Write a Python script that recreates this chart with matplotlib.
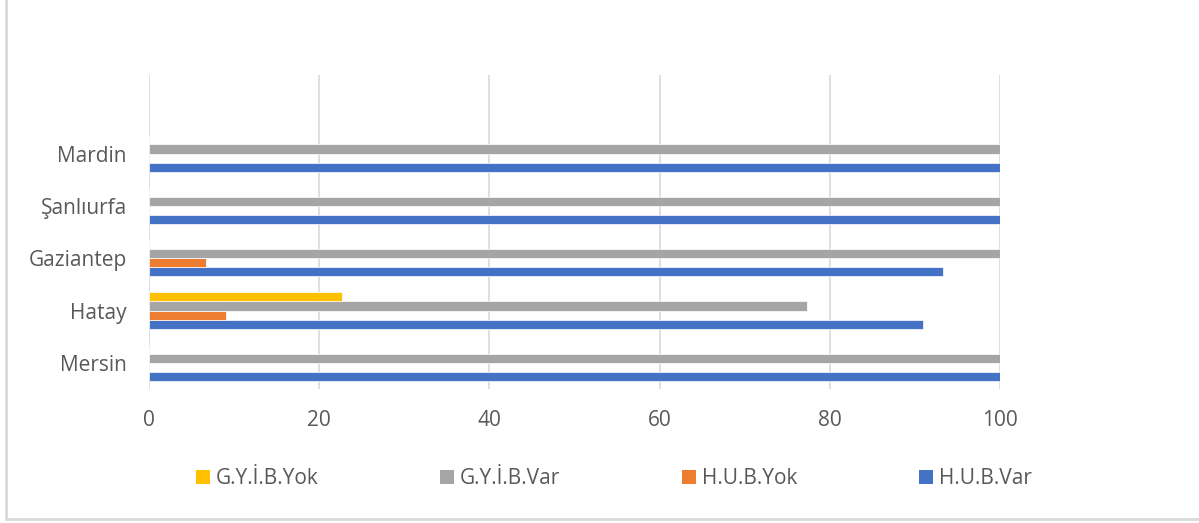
import matplotlib
matplotlib.use("Agg")
import matplotlib.pyplot as plt
import numpy as np
from matplotlib.lines import Line2D
from matplotlib.patches import Patch

plt.rcParams["font.family"] = ["Open Sans", "DejaVu Sans"]

cities = ["Mersin", "Hatay", "Gaziantep", "Şanlıurfa", "Mardin"]
hub_var = [100, 90.9, 93.3, 100, 100]
hub_yok = [0, 9.1, 6.7, 0, 0]
gyib_var = [100, 77.3, 100, 100, 100]
gyib_yok = [0, 22.7, 0, 0, 0]

series = [("H.U.B.Var", hub_var, "#4472C4"), ("H.U.B.Yok", hub_yok, "#ED7D31"),
          ("G.Y.İ.B.Var", gyib_var, "#A5A5A5"), ("G.Y.İ.B.Yok", gyib_yok, "#FFC000")]
TXT = "#595959"

fig = plt.figure(figsize=(11.99, 5.23), dpi=100)
ax = fig.add_axes([149/1199, 1 - 389/523, 851/1199, 314/523])

y = np.arange(len(cities)); h = 0.172
for k, (name, vals, col) in enumerate(series):
    ax.barh(y + (k - 1.5) * h, vals, h, color=col, edgecolor="white", linewidth=0.5, label=name, zorder=3)

ax.set_xlim(0, 100); ax.set_ylim(-0.5, len(cities) + 0.5)
ax.set_xticks(range(0, 101, 20)); ax.set_yticks(y); ax.set_yticklabels(cities)
ax.grid(axis="x", color="#D9D9D9", lw=1.2, zorder=0)
for s in ax.spines.values(): s.set_visible(False)
ax.tick_params(length=0, labelsize=15, colors=TXT)
ax.tick_params(axis="x", pad=15)
ax.tick_params(axis="y", pad=16)

hd = [Patch(facecolor=col, linewidth=0) for _, _, col in series][::-1]
lb = [name for name, _, _ in series][::-1]
fig.legend(hd, lb, loc="center", bbox_to_anchor=(614/1199, 1 - 479/523), ncol=4,
           frameon=False, fontsize=15, handlelength=0.65, handleheight=0.65, handletextpad=0.3,
           columnspacing=5.85, labelcolor=TXT)

# chart-area border (left and bottom visible)
fig.add_artist(Line2D([6/1199, 6/1199], [1 - 519/523, 1], transform=fig.transFigure, color="#D9D9D9", lw=2))
fig.add_artist(Line2D([6/1199, 1], [1 - 519/523, 1 - 519/523], transform=fig.transFigure, color="#D9D9D9", lw=2))

fig.savefig("out.png", dpi=100)
